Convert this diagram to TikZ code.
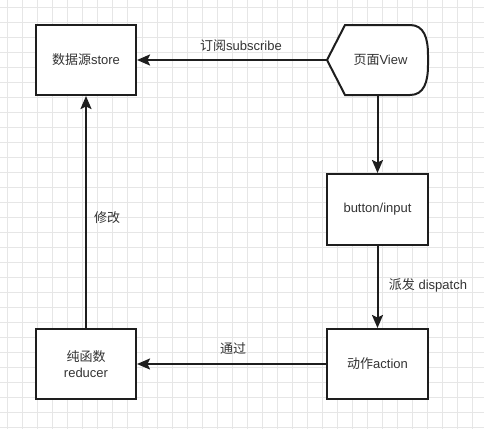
\documentclass[tikz,border=0pt]{standalone}
\usepackage{fontspec}
\setmainfont{Liberation Sans}
\newfontfamily\cjk{Noto Sans CJK SC}
\usetikzlibrary{arrows.meta}
\definecolor{gridc}{HTML}{E6E6E6}
\definecolor{linec}{HTML}{1E1E1E}
\definecolor{textc}{HTML}{333333}
\begin{document}
\begin{tikzpicture}[x=1pt,y=-1pt,
  box/.style={draw=linec, line width=2pt, fill=white, minimum width=100pt, minimum height=70pt, inner sep=0pt, text=textc, font=\fontsize{13pt}{16pt}\selectfont, align=center},
  viewbox/.style={minimum width=101pt, minimum height=70pt, inner sep=0pt, text=textc, font=\fontsize{13pt}{16pt}\selectfont},
  conn/.style={draw=linec, line width=2pt, -{Stealth[length=13pt,width=11pt,inset=2.5pt]}},
  lbl/.style={text=textc, font=\fontsize{13pt}{16pt}\selectfont, inner sep=1pt}]
\fill[white] (0,0) rectangle (484,429);
\useasboundingbox (0,0) rectangle (484,429);
\foreach \i in {0,...,31} { \draw[gridc, line width=1pt] (7+15*\i,0) -- (7+15*\i,429); }
\foreach \j in {0,...,28} { \draw[gridc, line width=1pt] (0,7+15*\j) -- (484,7+15*\j); }

\node[box] (store) at (86,60) {{\cjk 数据源}store};
\draw[draw=linec, line width=2pt, fill=white] (327,60) -- (345,25) -- (410,25) .. controls (424,25) and (428,38) .. (428,55) -- (428,65) .. controls (428,82) and (424,95) .. (410,95) -- (345,95) -- cycle;
\node[viewbox] (view) at (377.5,60) {\hspace*{6pt}{\cjk 页面}View};
\node[box, minimum width=101pt, minimum height=71pt] (btn) at (377.5,209.5) {button/input};
\node[box, minimum width=101pt] (action) at (377.5,364) {{\cjk 动作}action};
\node[box] (reducer) at (86,364) {{\cjk 纯函数}\\reducer};

\draw[conn] (view.west) -- (store.east);
\draw[conn] (view.south) -- (btn.north);
\draw[conn] (btn.south) -- (action.north);
\draw[conn] (action.west) -- (reducer.east);
\draw[conn] (reducer.north) -- (store.south);

\node[lbl] (l1) at (241,46) {{\cjk 订阅}subscribe};
\node[lbl] (l2) at (428,285) {{\cjk 派发} dispatch};
\node[lbl] (l3) at (233,349) {\cjk 通过};
\node[lbl] (l4) at (107,218) {\cjk 修改};
\end{tikzpicture}
\end{document}
